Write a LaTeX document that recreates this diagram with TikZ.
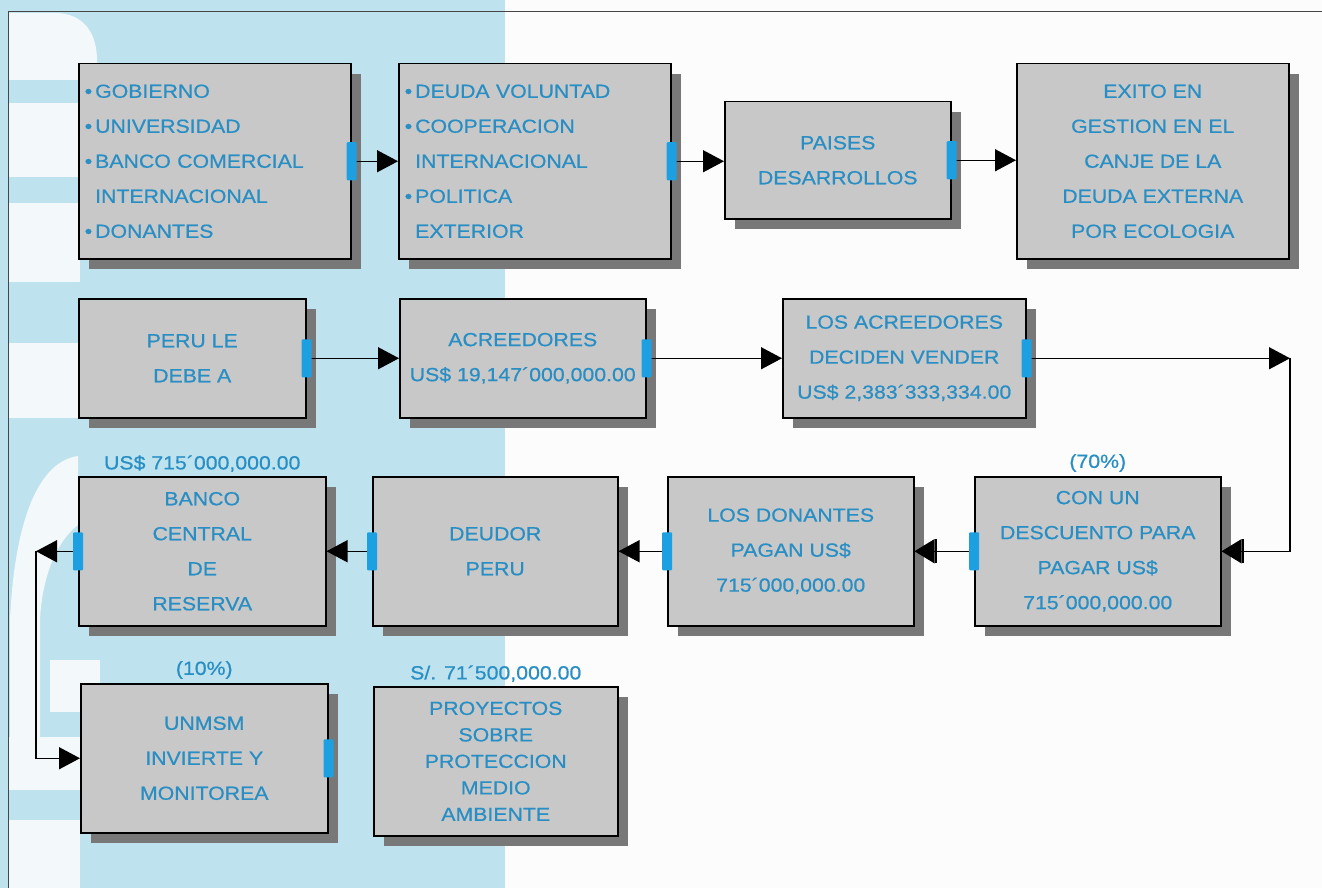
\documentclass[tikz,border=0pt]{standalone}
\usepackage{fontspec}
\setmainfont{Liberation Sans}[FakeStretch=1.12, FakeBold=0.6]
\definecolor{colback}{RGB}{190,226,238}
\definecolor{colpale}{RGB}{243,248,250}
\definecolor{colpaper}{RGB}{252,252,252}
\definecolor{colframe}{RGB}{70,70,70}
\definecolor{colbox}{RGB}{200,200,200}
\definecolor{colshadow}{RGB}{120,120,120}
\definecolor{coltext}{RGB}{40,142,196}
\definecolor{colport}{RGB}{28,160,226}
\usetikzlibrary{arrows.meta,positioning,shadows}
\newcommand{\itm}{•\hspace{3pt}}
\tikzset{
	>={Triangle[length=21pt,width=22pt]},
	box/.style={draw=black, line width=1.5pt, fill=colbox, anchor=north west, inner sep=0pt,
		text=coltext, align=center, font=\fontsize{19}{35}\selectfont,
		drop shadow={shadow xshift=10pt, shadow yshift=-10pt, fill=colshadow, opacity=1}},
	listbox/.style={minimum width=272pt, minimum height=195pt, text width=260pt, inner xsep=6pt, align=left},
	amount/.style={text=coltext, font=\fontsize{19}{23}\selectfont, inner sep=1pt},
	flow/.style={->, line width=1.4pt},
	flowbar/.style={-{Bar[width=24pt,line width=2pt] Triangle[length=20pt,width=24pt]}, line width=1.4pt},
	port/.style={fill=colport, rounded corners=1pt}
}

\begin{document}
\begin{tikzpicture}[x=1pt, y=-1pt]
	\useasboundingbox (0,0) rectangle (1322,888);
	% background page
	\begin{scope}
		\fill[colpaper] (0,0) rectangle (1322,888);
		\fill[colback] (0,0) rectangle (505,888);
		\fill[colpale] (8,13) -- (55,13) .. controls (85,13) and (97,35) .. (97,60) -- (97,80) -- (8,80) -- cycle;
		\foreach \top/\bot in {103/177,203/282,343/418,737/790,820/888} {
			\fill[colpale] (8,\top) rectangle (80,\bot);
		}
		\fill[colpale] (10,737) -- (10,620) .. controls (14,530) and (35,462) .. (78,456) -- (78,525) .. controls (58,540) and (42,575) .. (40,620) -- (40,737) -- cycle;
		\fill[colpale] (50,660) rectangle (100,712);
		\draw[colframe, line width=1pt] (8,888) -- (8,12) -- (1322,12);
	\end{scope}

	% first row
	\node[box, listbox] (actores) at (78,63) {\itm GOBIERNO\\\itm UNIVERSIDAD\\\itm BANCO COMERCIAL\\\hphantom{\itm}INTERNACIONAL\\\itm DONANTES};
	\node[box, listbox] (medios) at (398,63) {\itm DEUDA VOLUNTAD\\\itm COOPERACION\\\hphantom{\itm}INTERNACIONAL\\\itm POLITICA\\\hphantom{\itm}EXTERIOR};
	\node[box, minimum width=226pt, minimum height=117pt] (paises) at (724,101) {PAISES\\DESARROLLOS};
	\node[box, minimum width=272pt, minimum height=195pt] (exito) at (1016,63) {EXITO EN\\GESTION EN EL\\CANJE DE LA\\DEUDA EXTERNA\\POR ECOLOGIA};

	% second row
	\node[box, minimum width=227pt, minimum height=119pt] (peru) at (78,298) {PERU LE\\DEBE A};
	\node[box, minimum width=246pt, minimum height=119pt] (acreed) at (399,298) {ACREEDORES\\US\$ 19,147´000,000.00};
	\node[box, minimum width=243pt, minimum height=119pt] (venden) at (782,298) {LOS ACREEDORES\\DECIDEN VENDER\\US\$ 2,383´333,334.00};

	% third row
	\node[box, minimum width=246pt, minimum height=149pt] (desc) at (974,476) {CON UN\\DESCUENTO PARA\\PAGAR US\$\\715´000,000.00};
	\node[box, minimum width=246pt, minimum height=149pt] (donantes) at (667,476) {LOS DONANTES\\PAGAN US\$\\715´000,000.00};
	\node[box, minimum width=245pt, minimum height=149pt] (deudor) at (372,476) {DEUDOR\\PERU};
	\node[box, minimum width=247pt, minimum height=149pt] (banco) at (78,476) {BANCO\\CENTRAL\\DE\\RESERVA};

	% fourth row
	\node[box, minimum width=247pt, minimum height=149pt] (unmsm) at (80,683) {UNMSM\\INVIERTE Y\\MONITOREA};
	\node[box, minimum width=244pt, minimum height=149pt, font=\fontsize{19}{26.5}\selectfont] (proyectos) at (373,686) {PROYECTOS\\SOBRE\\PROTECCION\\MEDIO\\AMBIENTE};

	\node[amount, above=3pt of desc] (pdesc) {(70\%)};
	\node[amount, above=3pt of banco] (pbanco) {US\$ 715´000,000.00};
	\node[amount, above=3pt of unmsm] (punmsm) {(10\%)};
	\node[amount, above=3pt of proyectos] (pproy) {S/. 71´500,000.00};

	% connectors
	\draw[flow] (actores.east) -- (medios.west);
	\draw[flow] (medios.east) -- (medios.east -| paises.west);
	\draw[flow] (paises.east) -- (paises.east -| exito.west);
	\draw[flow] (peru.east) -- (peru.east -| acreed.west);
	\draw[flow] (acreed.east) -- (acreed.east -| venden.west);
	\coordinate (giroA) at (venden.east -| 1290,0);
	\draw[flow] (venden.east) -- (giroA);
	\draw[flowbar] (giroA) |- (desc.east);
	\draw[flowbar] (desc.west) -- (donantes.east);
	\draw[flow] (donantes.west) -- (deudor.east);
	\draw[flow] (deudor.west) -- (banco.east);
	\coordinate (giroB) at (banco.west -| 36,0);
	\draw[flow] (banco.west) -- (giroB);
	\draw[flow] (giroB) |- (unmsm.west);

	% ports
	\foreach \where in {actores.east,medios.east,paises.east,peru.east,acreed.east,venden.east,desc.west,donantes.west,deudor.west,banco.west,unmsm.east} {
		\fill[port] ([shift={(-5pt,-19pt)}]\where) rectangle ++(10pt,38pt);
	}
\end{tikzpicture}
\end{document}
